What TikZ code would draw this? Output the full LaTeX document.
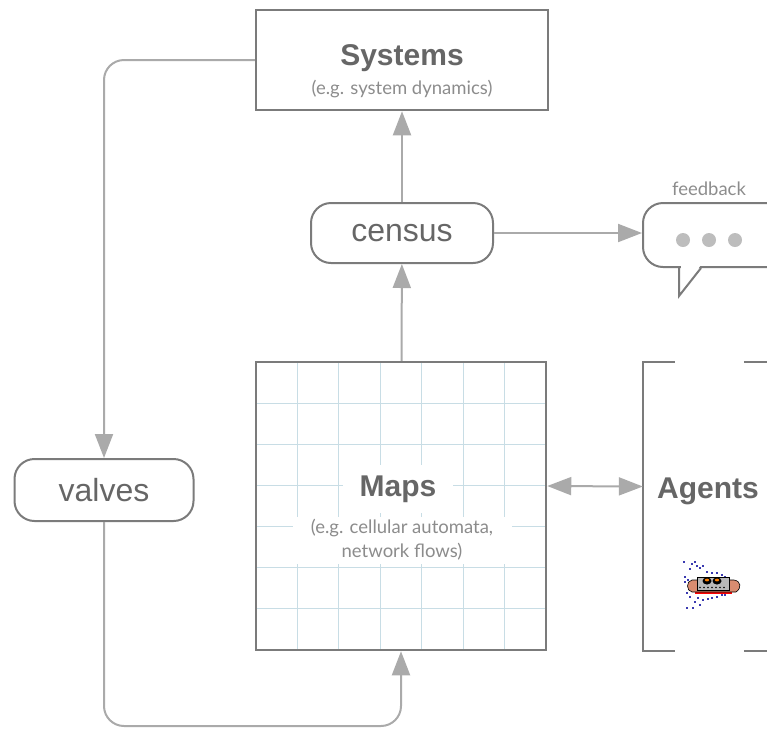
\documentclass[tikz,border=0pt]{standalone}
\usepackage{fontspec}
\setmainfont{Liberation Sans}
\newfontfamily\notefont{Lato}
\usetikzlibrary{arrows.meta}

\definecolor{boxgray}{HTML}{7B7B7B}
\definecolor{linegray}{HTML}{AAAAAA}
\definecolor{textgray}{HTML}{666666}
\definecolor{subgray}{HTML}{8C8C8C}
\definecolor{gridblue}{HTML}{C8DDE5}
\definecolor{dotgray}{HTML}{BDBDBD}
\definecolor{shiphull}{HTML}{D98C70}
\definecolor{shipdots}{HTML}{3A3AB0}

\begin{document}
\begin{tikzpicture}[x=1pt, y=-1pt,
    boxstyle/.style={rectangle, draw=boxgray, line width=2.5pt, inner sep=0pt},
    pillstyle/.style={rectangle, draw=boxgray, line width=2pt, rounded corners=20pt, inner sep=0pt, text=textgray, font=\fontsize{32}{38}\selectfont},
    titlestyle/.style={anchor=base, text=textgray, font=\bfseries\fontsize{30}{36}\selectfont},
    notestyle/.style={anchor=base, text=subgray, font=\notefont\fontsize{18.5}{24}\selectfont},
    gridline/.style={draw=gridblue, line width=1.2pt},
    arrowstyle/.style={-{Triangle[length=24pt, width=18pt]}, draw=linegray, line width=2pt}
]
    \useasboundingbox (0,0) rectangle (767,729);

    % grid under the map box
    \foreach \i in {1,...,6} {
        \draw[gridline] ({256+\i*41.43},362) -- ({256+\i*41.43},650);
        \draw[gridline] (256,{362+\i*41.14}) -- (546,{362+\i*41.14});
    }

    \node[boxstyle, minimum width=292pt, minimum height=100pt] (systems) at (402,60) {};
    \node[titlestyle] (systitle) at (402,65) {Systems};
    \node[notestyle] (syssub) at (402,94) {(e.g. system dynamics)};

    \node[pillstyle, minimum width=182pt, minimum height=60pt] (census) at (402,233) {census};
    \node[pillstyle, minimum width=179pt, minimum height=62pt] (valves) at (104,490) {valves};

    \node[boxstyle, minimum width=290pt, minimum height=288pt] (maps) at (401,506) {};
    \node[titlestyle, anchor=center, fill=white, minimum width=110pt, minimum height=48pt, inner sep=0pt] (maptitle) at (398,489) {Maps};
    \node[notestyle, anchor=center, fill=white, align=center, minimum width=219pt, minimum height=47pt, inner sep=0pt] (mapsub) at (402,540) {(e.g. cellular automata,\\network flows)};

    % agents: open box running past the right edge
    \node[minimum width=158pt, minimum height=289pt] (agents) at (722,506.5) {};
    \draw[boxgray, line width=2.5pt] ([xshift=32pt]agents.north west) -- (agents.north west) -- (agents.south west) -- ([xshift=32pt]agents.south west);
    \draw[boxgray, line width=2.5pt] ([xshift=101pt]agents.north west) -- (agents.north east);
    \draw[boxgray, line width=2.5pt] ([xshift=101pt]agents.south west) -- (agents.south east);
    \node[titlestyle] (agtitle) at (708,498) {Agents};

    % little ship
    \begin{scope}[shift={(712,585)}]
        \foreach \dx/\dy in {-28/-23,-20/-21,-17/-23,-12/-17,-9/-19,-5/-13,0/-12,5/-12,10/-10,13/-8,-27/-8,-24/-5,-27/-3,-25/8,-22/12,-17/17,-19/23,-25/23,-14/13,-9/15,-4/14,0/13,5/12,10/10,13/10,-12/20,-22/-16,-15/-19}
            \fill[shipdots] (\dx-0.8,\dy-0.8) rectangle (\dx+0.8,\dy+0.8);
        \fill[red] (-17,6) rectangle (20,9);
        \filldraw[fill=shiphull, draw=black, line width=0.6pt] (-20,-5) -- (22,-5) .. controls (29,-4) and (30,3) .. (24,7) -- (-20,7) .. controls (-26,6) and (-26,-4) .. cycle;
        \fill[gray!55] (-15,-8) rectangle (17,5);
        \draw[black, line width=0.6pt] (-15,-8) rectangle (17,5);
        \fill[black] (-5,-4) ellipse (4.5pt and 3.5pt);
        \fill[black] (5,-4) ellipse (4.5pt and 3.5pt);
        \fill[orange] (-5,-5) ellipse (2.2pt and 1.4pt);
        \fill[orange] (5,-5) ellipse (2.2pt and 1.4pt);
        \foreach \px in {-12,-8,...,14}
            \fill[black] (\px,2.5) circle (0.9pt);
    \end{scope}

    % speech bubble
    \node[rectangle, draw=boxgray, line width=2pt, rounded corners=20pt, minimum width=166pt, minimum height=64pt] (bubble) at (726,235) {};
    \fill[white] (681.2,265.5) -- (681.2,291) -- (700.5,265.5) -- cycle;
    \draw[boxgray, line width=2pt] ([xshift=37pt]bubble.south west) -- ([xshift=37pt, yshift=-28pt]bubble.south west) -- ([xshift=59pt]bubble.south west);
    \foreach \k in {0,1,2}
        \fill[dotgray] ({683+\k*26},240) circle (7pt);
    \node[notestyle] (fblabel) at (709,195) {feedback};

    \draw[arrowstyle] (census) -- (systems);
    \draw[arrowstyle] (maps) -- (census);
    \draw[arrowstyle] (census.east) -- (census.east -| bubble.west);
    \draw[arrowstyle, {Triangle[length=24pt, width=18pt]}-{Triangle[length=24pt, width=18pt]}] ([yshift=20pt]maps.east) -- ([yshift=20pt]agents.west);

    \coordinate (loopbot) at (104,726);
    \draw[arrowstyle, rounded corners=20pt] (systems.west) -| (valves.north);
    \draw[arrowstyle, rounded corners=20pt] (valves.south) -- (loopbot) -| (maps.south);
\end{tikzpicture}
\end{document}
